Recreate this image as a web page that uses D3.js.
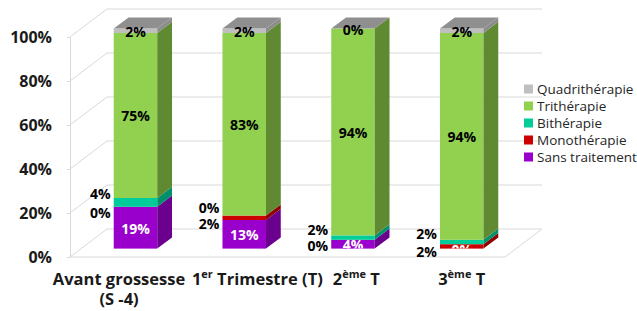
<!DOCTYPE html>
<html>
<head>
<meta charset="utf-8">
<script src="https://cdn.jsdelivr.net/npm/d3@7"></script>
<style>
  body { margin: 0; background: #fff; }
  text { font-family: "Open Sans", sans-serif; }
</style>
</head>
<body>
<div id="myVis"></div>
<script>
// data
const categories = ["Avant grossesse\n(S -4)", "1er Trimestre (T)", "2ème T", "3ème T"];
const seriesNames = ["Sans traitement", "Monothérapie", "Bithérapie", "Trithérapie", "Quadrithérapie"];
const sansTraitement = [19, 13, 4, 0];
const monotherapie = [0, 2, 0, 2];
const bitherapie = [4, 0, 2, 2];
const tritherapie = [75, 83, 94, 94];
const quadritherapie = [2, 2, 0, 2];
const yTicks = [0, 20, 40, 60, 80, 100];

const width = 637, height = 311;

// colours + label rules per serie
const styles = {
  "Sans traitement": {front: "#9900cc", side: "#6b008f", top: "#7a00a3", label: "inside", color: "#fff"},
  "Monothérapie":    {front: "#cc0000", side: "#8f0000", top: "#a30000", label: "left", color: "#000", dy: 6},
  "Bithérapie":      {front: "#00cc99", side: "#00906c", top: "#00a37a", label: "left", color: "#000", dy: -8},
  "Trithérapie":     {front: "#92d050", side: "#5f8a32", top: "#76ab3f", label: "inside", color: "#000"},
  "Quadrithérapie":  {front: "#bfbfbf", side: "#8c8c8c", top: "#8f8f8f", label: "inside", color: "#000"}
};

const table = categories.map((c, i) => ({
  cat: c,
  "Sans traitement": sansTraitement[i],
  "Monothérapie": monotherapie[i],
  "Bithérapie": bitherapie[i],
  "Trithérapie": tritherapie[i],
  "Quadrithérapie": quadritherapie[i]
}));

const stacked = d3.stack().keys(seriesNames)(table);

const svg = d3.select("#myVis").append("svg")
  .attr("width", width)
  .attr("height", height);

// 3d depth of the box
const DX = 37, DY = 28;
const zFront = 0.3, zBack = 0.7;

const x = d3.scaleBand()
  .domain(categories)
  .range([70, 505])
  .paddingInner(0.6)
  .paddingOuter(0.3);

const y = d3.scaleLinear()
  .domain([0, 100])
  .range([257, 37]);

const grid = "#d9d9d9";

// back wall + side wall lines
const walls = svg.append("g");
yTicks.forEach(t => {
  walls.append("line")
    .attr("x1", 70 + DX).attr("x2", 505 + DX)
    .attr("y1", y(t) - DY).attr("y2", y(t) - DY)
    .attr("stroke", grid);
  walls.append("line")
    .attr("x1", 70).attr("x2", 70 + DX)
    .attr("y1", y(t)).attr("y2", y(t) - DY)
    .attr("stroke", grid);
});
// floor
walls.append("line")
  .attr("x1", 70).attr("x2", 505)
  .attr("y1", y(0)).attr("y2", y(0))
  .attr("stroke", grid);
walls.append("line")
  .attr("x1", 505).attr("x2", 505 + DX)
  .attr("y1", y(0)).attr("y2", y(0) - DY)
  .attr("stroke", grid);

// y axis
const yAxis = svg.append("g")
  .attr("transform", "translate(70,0)")
  .call(d3.axisLeft(y).tickValues(yTicks).tickFormat(d => d + "%").tickSize(3).tickSizeOuter(0).tickPadding(15));
yAxis.select(".domain").attr("stroke", grid);
yAxis.selectAll(".tick line").attr("stroke", grid);
yAxis.selectAll(".tick text")
  .attr("font-family", "Open Sans, sans-serif")
  .attr("font-size", 16)
  .attr("font-weight", "bold")
  .attr("fill", "#1a1a1a");

// bars
const bw = x.bandwidth();
const dxBar = (zBack - zFront) * DX, dyBar = (zBack - zFront) * DY;
const fx = c => x(c) + zFront * DX;      // front face left
const fy = v => y(v) - zFront * DY;      // front face y

const bars = svg.append("g");
const pts = a => a.map(p => p.join(",")).join(" ");

categories.forEach((c, i) => {
  const g = bars.append("g");
  const x0 = fx(c), x1 = x0 + bw;
  stacked.forEach((s, si) => {
    const st = styles[s.key];
    const yb = fy(s[i][0]), yt = fy(s[i][1]);
    g.append("rect")
      .attr("x", x0).attr("y", yt)
      .attr("width", bw).attr("height", yb - yt)
      .attr("fill", st.front);
    g.append("polygon")
      .attr("points", pts([[x1, yt], [x1 + dxBar, yt - dyBar], [x1 + dxBar, yb - dyBar], [x1, yb]]))
      .attr("fill", st.side);
    if (si === stacked.length - 1) {
      g.append("polygon")
        .attr("points", pts([[x0, yt], [x1, yt], [x1 + dxBar, yt - dyBar], [x0 + dxBar, yt - dyBar]]))
        .attr("fill", st.top);
    }
  });
  svg.append("clipPath").attr("id", "clip" + i)
    .append("rect")
    .attr("x", x0).attr("y", fy(100) - dyBar - 20)
    .attr("width", bw + dxBar).attr("height", fy(0) - fy(100) + dyBar + 20);
});

// data labels
const labels = svg.append("g")
  .attr("font-size", 14)
  .attr("font-weight", "bold");

stacked.forEach(s => {
  const st = styles[s.key];
  s.forEach((d, i) => {
    const c = categories[i];
    const v = d[1] - d[0];
    const cy = fy((d[0] + d[1]) / 2);
    if (st.label === "inside") {
      labels.append("text")
        .attr("x", fx(c) + bw / 2)
        .attr("y", cy + 1)
        .attr("dy", "0.35em")
        .attr("text-anchor", "middle")
        .attr("fill", st.color)
        .attr("clip-path", "url(#clip" + i + ")")
        .text(v + "%");
    } else {
      labels.append("text")
        .attr("x", fx(c) - 3)
        .attr("y", cy + st.dy)
        .attr("dy", "0.35em")
        .attr("text-anchor", "end")
        .attr("fill", st.color)
        .text(v + "%");
    }
  });
});

// category labels
const catG = svg.append("g")
  .attr("font-size", 16.5)
  .attr("font-weight", "bold")
  .attr("fill", "#1a1a1a");

const catLabels = categories.map(c => {
  const lines = c.split("\n");
  const cx = fx(c) + bw / 2;
  const g = catG.append("g").attr("transform", "translate(" + cx + ",0)");
  lines.forEach((ln, li) => {
    const t = g.append("text")
      .attr("x", 0)
      .attr("y", 285 + li * 20)
      .attr("text-anchor", "middle");
    const m = ln.match(/^(\d)(er|ème)(.*)$/);
    if (m) {
      t.append("tspan").text(m[1]);
      t.append("tspan").attr("font-size", 11).attr("dy", -7).text(m[2]);
      t.append("tspan").attr("dy", 7).text(m[3]);
    } else {
      t.text(ln);
    }
  });
  const w = g.select("text").node().getComputedTextLength();
  return {g: g, cx: cx, w: w};
});

// push overlapping labels apart
for (let i = 0; i < catLabels.length - 1; i++) {
  const a = catLabels[i], b = catLabels[i + 1];
  const over = (a.cx + a.w / 2 + 10) - (b.cx - b.w / 2);
  if (over > 0) {
    a.cx -= over / 2;
    b.cx += over / 2;
  }
}
catLabels.forEach(l => l.g.attr("transform", "translate(" + l.cx + ",0)"));

// legend
const legend = svg.append("g")
  .attr("font-size", 13.5)
  .attr("fill", "#262626");

seriesNames.slice().reverse().forEach((name, i) => {
  const yy = 89 + i * 17;
  legend.append("rect")
    .attr("x", 524).attr("y", yy - 4.5)
    .attr("width", 9).attr("height", 9)
    .attr("fill", styles[name].front);
  legend.append("text")
    .attr("x", 537).attr("y", yy)
    .attr("dy", "0.35em")
    .text(name);
});
</script>
</body>
</html>
